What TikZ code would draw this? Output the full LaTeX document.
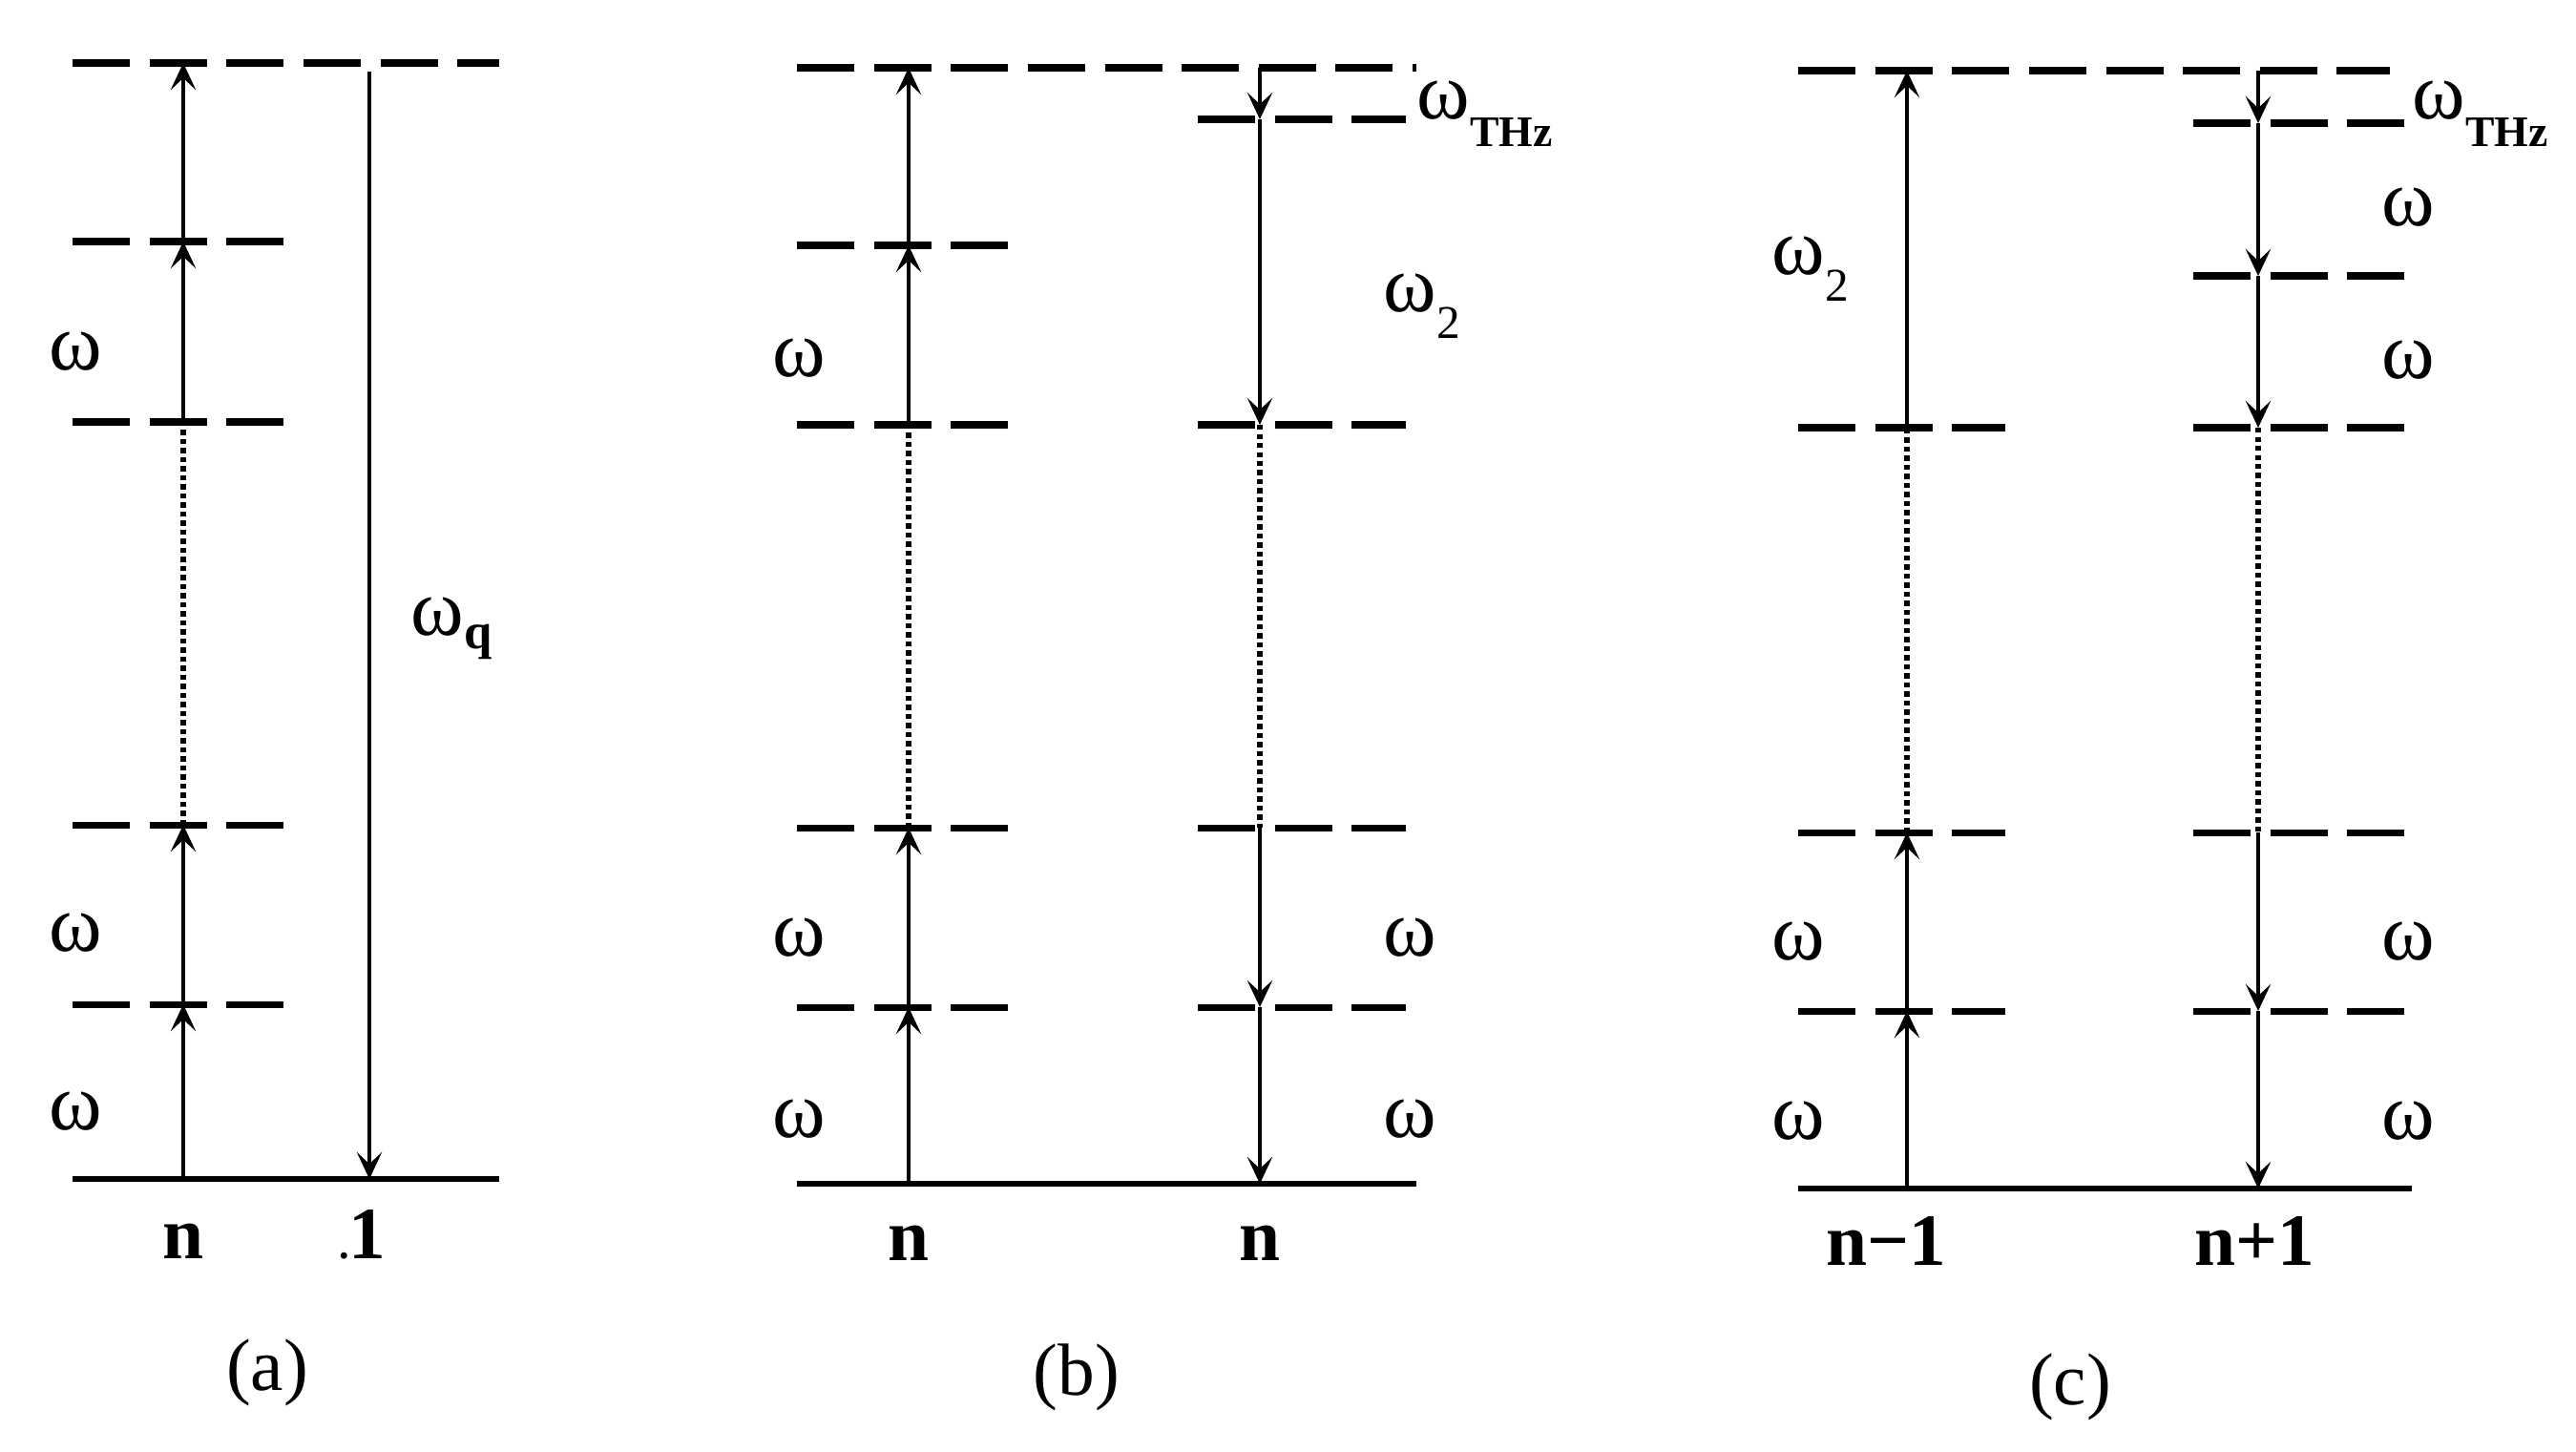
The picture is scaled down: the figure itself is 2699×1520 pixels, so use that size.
\documentclass[tikz,border=0pt]{standalone}
\usepackage{fontspec}
\setmainfont{Liberation Serif}
\usetikzlibrary{arrows.meta}
\begin{document}
\begin{tikzpicture}[x=0.01cm,y=-0.01cm,
  lvl/.style={line width=2pt, dash pattern=on 17.07pt off 5.86pt},
  ground/.style={line width=1.7pt},
  tr/.style={line width=0.9pt, -{Stealth[length=8pt,width=7.5pt,inset=3.5pt]}},
  dots/.style={line width=1.9pt, dash pattern=on 1.5pt off 1.2pt},
  om/.style={font=\fontsize{24}{26}\selectfont, inner sep=0pt},
  omw/.style={font=\fontsize{24}{26}\selectfont, inner sep=0pt, anchor=base west},
  lab/.style={font=\fontsize{22}{26}\selectfont\bfseries, inner sep=0pt, anchor=base},
  captext/.style={font=\fontsize{22}{26}\selectfont, inner sep=0pt, anchor=base}]
\useasboundingbox (0,0) rectangle (2699,1520);

% ---------------- panel (a) ----------------
\draw[lvl] (76,66) -- (523,66);
\draw[lvl] (76,253) -- (298,253);
\draw[lvl] (76,442) -- (298,442);
\draw[lvl] (76,864) -- (298,864);
\draw[lvl] (76,1052) -- (298,1052);
\draw[ground] (76,1235) -- (523,1235);

\coordinate (aL0) at (192,1235);
\coordinate (aL1) at (192,1052);
\coordinate (aL2) at (192,864);
\coordinate (aL3) at (192,442);
\coordinate (aL4) at (192,253);
\coordinate (aL5) at (192,66);
\coordinate (aRt) at (387,75);
\coordinate (aRb) at (387,1235);

\draw[tr] (aL0) -- (aL1);
\draw[tr] (aL1) -- (aL2);
\draw[dots] (aL2) -- (aL3);
\draw[tr] (aL3) -- (aL4);
\draw[tr] (aL4) -- (aL5);
\draw[tr] (aRt) -- (aRb);

\node[om] (aw1) at (79,368) {ω};
\node[om] (aw2) at (79,977) {ω};
\node[om] (aw3) at (79,1164) {ω};
\node[omw] (awq) at (430,665) {ω\raisebox{-4pt}{\fontsize{15}{17}\selectfont\bfseries q}};
\node[lab] (an1) at (192,1318) {n};
\node[lab] (an2) at (380,1318) {{\fontsize{12}{14}\selectfont .}1};
\node[captext] (acap) at (280,1456) {(a)};

% ---------------- panel (b) ----------------
\draw[lvl] (835,71) -- (1484,71);
\draw[lvl] (835,257) -- (1058,257);
\draw[lvl] (835,445) -- (1058,445);
\draw[lvl] (835,867) -- (1058,867);
\draw[lvl] (835,1055) -- (1058,1055);
\draw[lvl] (1255,125) -- (1473,125);
\draw[lvl] (1255,445) -- (1473,445);
\draw[lvl] (1255,867) -- (1473,867);
\draw[lvl] (1255,1055) -- (1473,1055);
\draw[ground] (835,1240) -- (1484,1240);

\coordinate (bL0) at (952,1240);
\coordinate (bL1) at (952,1055);
\coordinate (bL2) at (952,867);
\coordinate (bL3) at (952,445);
\coordinate (bL4) at (952,257);
\coordinate (bL5) at (952,71);
\coordinate (bR0) at (1320,71);
\coordinate (bR1) at (1320,125);
\coordinate (bR2) at (1320,445);
\coordinate (bR3) at (1320,867);
\coordinate (bR4) at (1320,1055);
\coordinate (bR5) at (1320,1240);

\draw[tr] (bL0) -- (bL1);
\draw[tr] (bL1) -- (bL2);
\draw[dots] (bL2) -- (bL3);
\draw[tr] (bL3) -- (bL4);
\draw[tr] (bL4) -- (bL5);
\draw[tr] (bR0) -- (bR1);
\draw[tr] (bR1) -- (bR2);
\draw[dots] (bR2) -- (bR3);
\draw[tr] (bR3) -- (bR4);
\draw[tr] (bR4) -- (bR5);

\node[om] (bw1) at (837,375) {ω};
\node[om] (bw2) at (837,982) {ω};
\node[om] (bw3) at (837,1172) {ω};
\node[om] (bw4) at (1477,982) {ω};
\node[om] (bw5) at (1477,1172) {ω};
\node[omw] (bthz) at (1484,124) {ω\raisebox{-8.5pt}{\fontsize{13}{15}\selectfont\bfseries THz}};
\node[omw] (bw2b) at (1449,326) {ω\raisebox{-8pt}{\fontsize{14}{16}\selectfont 2}};
\node[lab] (bn1) at (952,1320) {n};
\node[lab] (bn2) at (1320,1320) {n};
\node[captext] (bcap) at (1128,1461) {(b)};

% ---------------- panel (c) ----------------
\draw[lvl] (1884,74) -- (2504,74);
\draw[lvl] (1884,448) -- (2101,448);
\draw[lvl] (1884,872) -- (2101,872);
\draw[lvl] (1884,1059) -- (2101,1059);
\draw[lvl] (2298,129) -- (2520,129);
\draw[lvl] (2298,289) -- (2520,289);
\draw[lvl] (2298,448) -- (2520,448);
\draw[lvl] (2298,872) -- (2520,872);
\draw[lvl] (2298,1059) -- (2520,1059);
\draw[ground] (1884,1245) -- (2527,1245);

\coordinate (cL0) at (1998,1245);
\coordinate (cL1) at (1998,1059);
\coordinate (cL2) at (1998,872);
\coordinate (cL3) at (1998,448);
\coordinate (cL4) at (1998,74);
\coordinate (cR0) at (2366,74);
\coordinate (cR1) at (2366,129);
\coordinate (cR2) at (2366,289);
\coordinate (cR3) at (2366,448);
\coordinate (cR4) at (2366,872);
\coordinate (cR5) at (2366,1059);
\coordinate (cR6) at (2366,1245);

\draw[tr] (cL0) -- (cL1);
\draw[tr] (cL1) -- (cL2);
\draw[dots] (cL2) -- (cL3);
\draw[tr] (cL3) -- (cL4);
\draw[tr] (cR0) -- (cR1);
\draw[tr] (cR1) -- (cR2);
\draw[tr] (cR2) -- (cR3);
\draw[dots] (cR3) -- (cR4);
\draw[tr] (cR4) -- (cR5);
\draw[tr] (cR5) -- (cR6);

\node[omw] (cw2) at (1856,287) {ω\raisebox{-8pt}{\fontsize{14}{16}\selectfont 2}};
\node[omw] (cthz) at (2527,124) {ω\raisebox{-8.5pt}{\fontsize{13}{15}\selectfont\bfseries THz}};
\node[om] (cw1) at (2523,217) {ω};
\node[om] (cw3) at (2523,377) {ω};
\node[om] (cw4) at (1884,986) {ω};
\node[om] (cw5) at (1884,1174) {ω};
\node[om] (cw6) at (2523,986) {ω};
\node[om] (cw7) at (2523,1174) {ω};
\node[lab] (cn1) at (1976,1325) {n−1};
\node[lab] (cn2) at (2362,1325) {n+1};
\node[captext] (ccap) at (2169,1471) {(c)};
\end{tikzpicture}
\end{document}
